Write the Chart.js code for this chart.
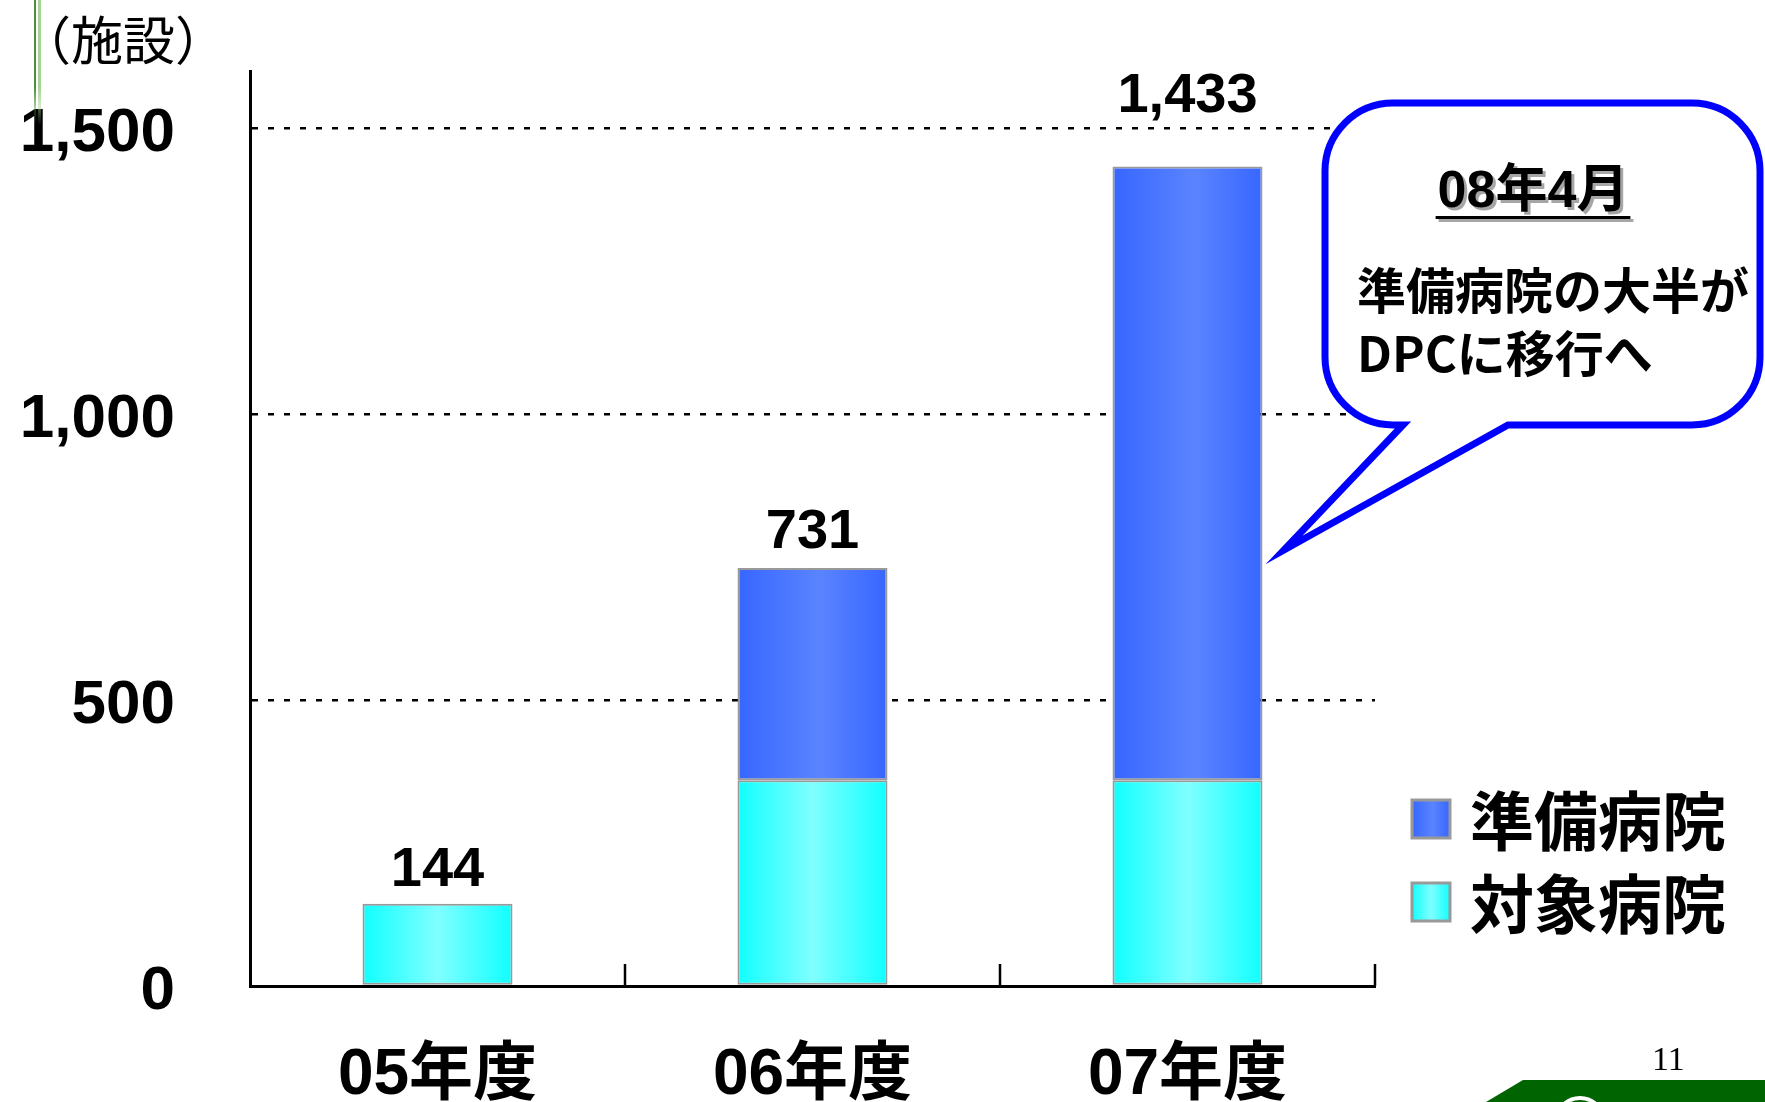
<!DOCTYPE html>
<html lang="ja">
<head>
<meta charset="utf-8">
<title>DPC 病院数の推移</title>
<script src="https://cdn.jsdelivr.net/npm/chart.js@4.4.1/dist/chart.umd.min.js"></script>
<style>
    html, body { margin: 0; padding: 0; background: #fff; }
    #wrap { position: relative; width: 1765px; height: 1102px; overflow: hidden; }
    #wrap canvas { position: absolute; left: 0; top: 0; }
    .deco-line { position: absolute; top: 0; height: 125px; }
    .deco-line.a { left: 34px; width: 2px; background: linear-gradient(to bottom, #4e8f3e 70%, rgba(78,143,62,0)); }
    .deco-line.b { left: 38px; width: 3px; background: linear-gradient(to bottom, #a6d494 70%, rgba(166,212,148,0)); }
    .page-no { position: absolute; left: 1652px; top: 1040px; font: 34px 'Liberation Serif', serif; color: #000; }
    .foot { position: absolute; left: 0; top: 0; }
</style>
</head>
<body>
<div id="wrap">
    <canvas id="chart-dpc"></canvas>
    <div class="deco-line a"></div>
    <div class="deco-line b"></div>
    <div class="page-no">11</div>
    <svg class="foot" width="1765" height="1102">
        <polygon points="1486,1102 1523,1080 1765,1080 1765,1102" fill="#006400"/>
        <circle cx="1580" cy="1122" r="24" fill="none" stroke="#fff" stroke-width="4"/>
    </svg>
</div>
<script>
// data
const categories = ['05年度', '06年度', '07年度'];
const seriesNames = ['対象病院', '準備病院'];
const taishoValues = [144, 360, 360];
const junbiValues = [null, 371, 1073];
const yTicks = [0, 500, 1000, 1500];

const BAR_PCT = 0.4;
const LABEL_LIFT = [18, 20, 55];
const NUM_FONT = "'Liberation Sans', 'Noto Sans CJK JP', sans-serif";
const JP_FONT = "'Noto Sans CJK JP', 'Liberation Sans', sans-serif";

const CYAN_STOPS = [[0, '#10ffff'], [0.5, '#80ffff'], [1, '#10ffff']];
const BLUE_STOPS = [[0, '#3766ff'], [0.55, '#5a84ff'], [1, '#3766ff']];

function makeGradient(ctx, x0, x1, stops) {
    const g = ctx.createLinearGradient(x0, 0, x1, 0);
    stops.forEach(([p, c]) => g.addColorStop(p, c));
    return g;
}

function barFill(context, stops) {
    const chart = context.chart;
    const xs = chart.scales.x;
    if (!chart.chartArea || !xs) return stops[1][1];
    const center = xs.getPixelForValue(context.dataIndex);
    const half = xs.width / categories.length * BAR_PCT / 2;
    return makeGradient(chart.ctx, center - half, center + half, stops);
}

const overlayPlugin = {
    id: 'overlay',
    afterDraw(chart) {
        const ctx = chart.ctx;
        const xs = chart.scales.x;
        const ys = chart.scales.y;
        const area = chart.chartArea;
        ctx.save();

        // inner tick marks on the category boundaries
        ctx.strokeStyle = '#000';
        ctx.lineWidth = 2.5;
        const step = xs.width / categories.length;
        for (let i = 1; i <= categories.length; i++) {
            const x = xs.left + i * step;
            ctx.beginPath();
            ctx.moveTo(x, area.bottom);
            ctx.lineTo(x, area.bottom - 22);
            ctx.stroke();
        }

        // totals above the stacks
        ctx.fillStyle = '#000';
        ctx.font = 'bold 56px ' + NUM_FONT;
        ctx.textAlign = 'center';
        ctx.textBaseline = 'alphabetic';
        categories.forEach((c, i) => {
            const total = (taishoValues[i] || 0) + (junbiValues[i] || 0);
            const y = ys.getPixelForValue(total) - LABEL_LIFT[i];
            ctx.fillText(total.toLocaleString('en-US'), xs.getPixelForValue(i), y);
        });

        // unit
        ctx.font = '52px ' + JP_FONT;
        ctx.textAlign = 'left';
        ctx.textBaseline = 'middle';
        ctx.fillText('（施設）', 19, 40);

        // legend (top entry = upper series)
        const legendRows = [
            { name: seriesNames[1], stops: BLUE_STOPS, y: 819 },
            { name: seriesNames[0], stops: CYAN_STOPS, y: 902 },
        ];
        legendRows.forEach(r => {
            const sx = 1412, size = 38;
            ctx.fillStyle = makeGradient(ctx, sx, sx + size, r.stops);
            ctx.fillRect(sx, r.y - size / 2, size, size);
            ctx.strokeStyle = '#999';
            ctx.lineWidth = 3;
            ctx.strokeRect(sx, r.y - size / 2, size, size);
            ctx.fillStyle = '#000';
            ctx.font = 'bold 64px ' + JP_FONT;
            ctx.fillText(r.name, 1470, r.y + 2);
        });

        // callout bubble
        const L = 1325, T = 103, R = 1760, B = 425, rad = 68;
        ctx.beginPath();
        ctx.moveTo(L + rad, T);
        ctx.lineTo(R - rad, T);
        ctx.arcTo(R, T, R, T + rad, rad);
        ctx.lineTo(R, B - rad);
        ctx.arcTo(R, B, R - rad, B, rad);
        ctx.lineTo(1508, B);
        ctx.lineTo(1284, 550);
        ctx.lineTo(1403, B);
        ctx.lineTo(L + rad, B);
        ctx.arcTo(L, B, L, B - rad, rad);
        ctx.lineTo(L, T + rad);
        ctx.arcTo(L, T, L + rad, T, rad);
        ctx.closePath();
        ctx.fillStyle = '#fff';
        ctx.fill();
        ctx.strokeStyle = '#0000ff';
        ctx.lineWidth = 7;
        ctx.lineJoin = 'miter';
        ctx.stroke();

        // callout heading with shadow and underline
        ctx.font = 'bold 52px ' + NUM_FONT;
        ctx.textAlign = 'center';
        ctx.textBaseline = 'middle';
        const head = '08年4月';
        const hw = ctx.measureText(head).width;
        ctx.save();
        ctx.shadowColor = 'rgba(0,0,0,0.35)';
        ctx.shadowOffsetX = 3;
        ctx.shadowOffsetY = 3;
        ctx.fillStyle = '#000';
        ctx.fillText(head, 1533, 193);
        ctx.fillRect(1533 - hw / 2 - 2, 216, hw + 4, 3);
        ctx.restore();

        ctx.fillStyle = '#000';
        ctx.font = 'bold 49px ' + JP_FONT;
        ctx.textAlign = 'left';
        ctx.fillText('準備病院の大半が', 1357, 290);
        ctx.fillText('DPCに移行へ', 1357, 353);

        ctx.restore();
    },
};

const dpcChart = new Chart(document.getElementById('chart-dpc'), {
    type: 'bar',
    data: {
        labels: categories,
        datasets: [
            {
                label: seriesNames[0],
                data: taishoValues,
                backgroundColor: c => barFill(c, CYAN_STOPS),
                borderColor: '#999999',
                borderWidth: 2,
                borderSkipped: false,
                barPercentage: BAR_PCT,
                categoryPercentage: 1,
            },
            {
                label: seriesNames[1],
                data: junbiValues,
                backgroundColor: c => barFill(c, BLUE_STOPS),
                borderColor: '#999999',
                borderWidth: 2,
                borderSkipped: false,
                barPercentage: BAR_PCT,
                categoryPercentage: 1,
            },
        ],
    },
    options: {
        responsive: true,
        maintainAspectRatio: false,
        animation: false,
        layout: { padding: { top: 71, right: 390, bottom: 0, left: 0 } },
        plugins: {
            legend: { display: false },
            tooltip: { enabled: false },
        },
        scales: {
            x: {
                stacked: true,
                grid: { display: false },
                border: { display: true, color: '#000', width: 3 },
                ticks: {
                    color: '#000',
                    padding: 44,
                    font: { family: NUM_FONT, size: 64, weight: 'bold' },
                },
                afterFit: s => {
                    s.height = 116;
                    s.paddingLeft = 0;
                    s.paddingRight = 0;
                },
            },
            y: {
                stacked: true,
                min: 0,
                max: 1600,
                afterBuildTicks: s => { s.ticks = yTicks.map(v => ({ value: v })); },
                afterFit: s => {
                    s.width = 250;
                    s.paddingTop = 0;
                    s.paddingBottom = 0;
                },
                grid: { color: '#000', lineWidth: 2.5, drawTicks: false },
                border: { display: true, color: '#000', width: 3, dash: [6, 10] },
                ticks: {
                    color: '#000',
                    padding: 75,
                    labelOffset: 6,
                    font: { family: NUM_FONT, size: 62, weight: 'bold' },
                    callback: v => v.toLocaleString('en-US'),
                },
            },
        },
    },
    plugins: [overlayPlugin],
});
</script>
</body>
</html>
